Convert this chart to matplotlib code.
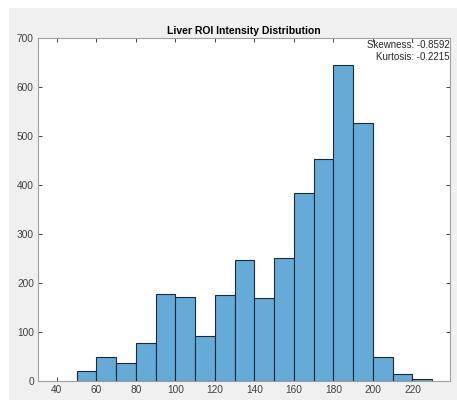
import matplotlib.pyplot as plt
import matplotlib.patches as mpatches
import numpy as np

# histogram of liver ROI intensities, bin width 10
bin_edges = np.arange(50, 240, 10)
counts = [20, 48, 37, 77, 177, 172, 91, 176, 247, 169, 251, 383, 454, 645, 526, 48, 14, 5]
skewness = -0.8592
kurtosis = -0.2215

plt.rcParams['font.family'] = ['Liberation Sans', 'DejaVu Sans']

fig = plt.figure(figsize=(4.57, 4.03), dpi=100, facecolor='white')
# matlab style grey window background
fig.patches.append(mpatches.Rectangle((9 / 457, 3 / 403), 1, 392 / 403, transform=fig.transFigure,
                                      facecolor='#f0f0f0', edgecolor='none', zorder=-1))
ax = fig.add_axes([38 / 457, 22 / 403, 412 / 457, 343 / 403])

ax.bar(bin_edges[:-1], counts, width=10, align='edge', color='#66aad7',
       edgecolor='#1a2a38', linewidth=0.8)

ax.set_xlim(30.5, 239)
ax.set_ylim(0, 700)
ax.set_xticks(range(40, 221, 20))
ax.set_yticks(range(0, 701, 100))
ax.tick_params(direction='in', top=True, right=True, length=3, width=0.6,
               colors='#262626', labelsize=7.3, labelcolor='#404040', pad=3)
for s in ax.spines.values():
    s.set_color('#a0a0a0')
    s.set_linewidth(0.8)

ax.set_title('Liver ROI Intensity Distribution', fontsize=7.5, fontweight='bold', pad=3)
ax.text(0.999, 0.995, 'Skewness: ' + str(skewness), transform=ax.transAxes,
        ha='right', va='top', fontsize=7, color='#262626')
ax.text(0.999, 0.96, 'Kurtosis: ' + str(kurtosis), transform=ax.transAxes,
        ha='right', va='top', fontsize=7, color='#262626')

plt.savefig('out.png', dpi=100, facecolor=fig.get_facecolor())
